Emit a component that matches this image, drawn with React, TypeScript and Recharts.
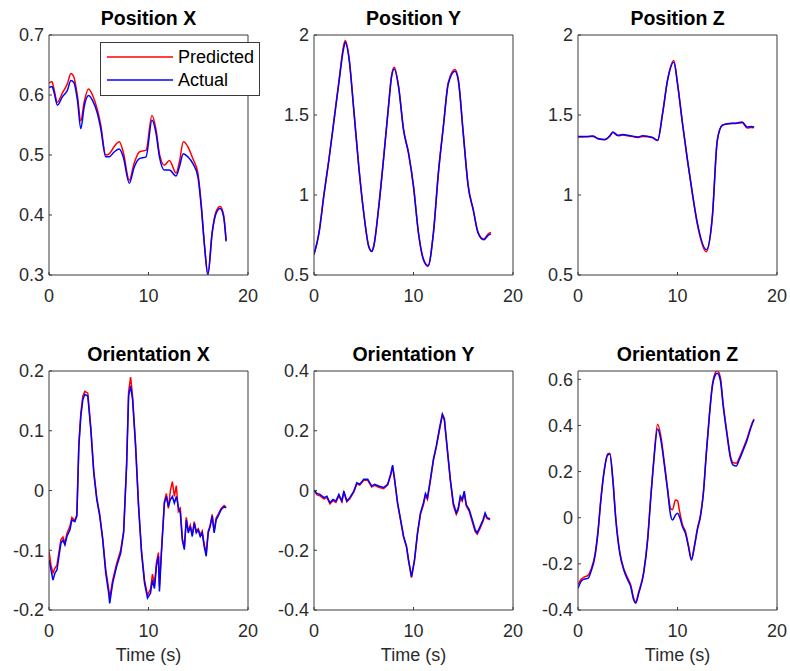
import { Legend, Line, LineChart, XAxis, YAxis } from "recharts";

const FONT = '"Liberation Sans", Arial, Helvetica, sans-serif';
const AXIS = "#3a3a3a";
const RED = "#ff0000";
const BLUE = "#0000ff";

const timeTicks = [0, 10, 20];

// Position X
const posXTime = [0, 0.3, 0.5, 0.84, 1.34, 1.85, 2.2, 2.5, 2.86, 3.2, 3.53, 3.97, 4.37, 4.87, 5.2, 5.7, 6.05, 6.55, 7.06, 7.46, 8.07, 8.57, 9.08, 9.75, 10.35, 10.76, 11.1, 11.6, 12.1, 12.77, 13.1, 13.5, 13.95, 14.45, 14.96, 15.3, 15.63, 15.97, 16.4, 16.8, 17.2, 17.55, 17.8];
const posXActual = [0.612, 0.614, 0.605, 0.583, 0.597, 0.608, 0.624, 0.621, 0.591, 0.544, 0.58, 0.599, 0.591, 0.569, 0.544, 0.497, 0.497, 0.505, 0.51, 0.497, 0.453, 0.48, 0.494, 0.497, 0.558, 0.536, 0.497, 0.475, 0.475, 0.465, 0.48, 0.502, 0.497, 0.486, 0.464, 0.414, 0.348, 0.3, 0.37, 0.403, 0.411, 0.397, 0.356];
const posXPredicted = [0.62, 0.622, 0.61, 0.588, 0.603, 0.619, 0.636, 0.63, 0.598, 0.557, 0.588, 0.61, 0.6, 0.575, 0.55, 0.5, 0.502, 0.514, 0.522, 0.505, 0.458, 0.487, 0.505, 0.508, 0.566, 0.542, 0.502, 0.483, 0.491, 0.47, 0.488, 0.522, 0.514, 0.494, 0.47, 0.418, 0.35, 0.302, 0.372, 0.406, 0.414, 0.4, 0.358];

// Position Y
const posYTime = [0, 0.5, 1, 1.5, 2, 2.5, 3, 3.15, 3.5, 4, 4.5, 5, 5.5, 5.8, 6, 6.5, 7, 7.5, 7.8, 8.07, 8.5, 9, 9.5, 10, 10.5, 11, 11.46, 12, 12.5, 13, 13.5, 14.17, 14.5, 15, 15.5, 16, 16.5, 17.05, 17.56, 17.8];
const posYActual = [0.627, 0.761, 1.0, 1.22, 1.46, 1.7, 1.923, 1.954, 1.861, 1.529, 1.176, 0.886, 0.678, 0.647, 0.678, 0.92, 1.23, 1.56, 1.74, 1.788, 1.674, 1.405, 1.26, 1.052, 0.761, 0.595, 0.554, 0.761, 1.135, 1.425, 1.695, 1.774, 1.716, 1.384, 1.052, 0.907, 0.761, 0.72, 0.751, 0.757];
const posYPredicted = [0.63, 0.765, 1.005, 1.225, 1.465, 1.71, 1.94, 1.965, 1.87, 1.535, 1.18, 0.89, 0.68, 0.65, 0.68, 0.925, 1.235, 1.565, 1.75, 1.798, 1.68, 1.41, 1.265, 1.055, 0.765, 0.6, 0.56, 0.765, 1.14, 1.43, 1.705, 1.785, 1.725, 1.39, 1.058, 0.912, 0.765, 0.725, 0.76, 0.765];

// Position Z
const posZTime = [0, 0.5, 1, 1.5, 2, 2.7, 3.2, 3.5, 4, 4.5, 5, 5.5, 6, 6.5, 7, 7.5, 8, 8.5, 9, 9.63, 10, 10.5, 11, 11.5, 12, 12.9, 13.5, 14, 14.5, 15, 16, 16.5, 17, 17.4, 17.7];
const posZActual = [1.365, 1.365, 1.366, 1.368, 1.353, 1.347, 1.37, 1.394, 1.373, 1.378, 1.373, 1.368, 1.363, 1.37, 1.367, 1.36, 1.342, 1.508, 1.716, 1.83, 1.695, 1.446, 1.218, 1.01, 0.824, 0.658, 0.865, 1.342, 1.436, 1.446, 1.45, 1.456, 1.425, 1.428, 1.425];
const posZPredicted = [1.362, 1.363, 1.364, 1.366, 1.352, 1.345, 1.368, 1.39, 1.37, 1.375, 1.37, 1.365, 1.36, 1.366, 1.364, 1.357, 1.34, 1.51, 1.72, 1.84, 1.7, 1.45, 1.22, 1.005, 0.815, 0.645, 0.86, 1.34, 1.435, 1.444, 1.448, 1.452, 1.418, 1.422, 1.42];

// Orientation X
const oriXTime = [0, 0.2, 0.4, 0.6, 0.8, 1.0, 1.2, 1.4, 1.6, 1.8, 2.1, 2.3, 2.6, 2.8, 3.0, 3.2, 3.4, 3.6, 3.9, 4.2, 4.5, 4.8, 5.1, 5.4, 5.7, 6.0, 6.1, 6.4, 6.8, 7.2, 7.5, 7.8, 8.0, 8.2, 8.4, 8.7, 9.0, 9.3, 9.6, 9.9, 10.2, 10.4, 10.6, 10.8, 11.0, 11.1, 11.3, 11.6, 11.8, 12.0, 12.2, 12.4, 12.6, 12.8, 13.0, 13.2, 13.4, 13.6, 13.8, 14.0, 14.2, 14.4, 14.6, 14.8, 15.0, 15.2, 15.4, 15.6, 15.8, 16.0, 16.2, 16.4, 16.6, 16.8, 17.0, 17.3, 17.6, 17.8];
const oriXActual = [-0.116, -0.133, -0.15, -0.138, -0.133, -0.11, -0.088, -0.083, -0.091, -0.077, -0.066, -0.049, -0.052, -0.043, 0.074, 0.124, 0.152, 0.161, 0.158, 0.102, 0.029, -0.015, -0.043, -0.083, -0.138, -0.172, -0.189, -0.155, -0.127, -0.105, -0.071, 0.041, 0.158, 0.175, 0.152, 0.074, -0.027, -0.105, -0.155, -0.18, -0.172, -0.15, -0.164, -0.127, -0.11, -0.169, -0.105, -0.021, -0.01, -0.027, -0.015, -0.01, -0.021, -0.01, -0.027, -0.038, -0.083, -0.099, -0.049, -0.071, -0.06, -0.077, -0.055, -0.071, -0.066, -0.077, -0.071, -0.094, -0.11, -0.071, -0.06, -0.043, -0.071, -0.049, -0.043, -0.032, -0.027, -0.029];
const oriXPredicted = [-0.102, -0.125, -0.138, -0.13, -0.125, -0.103, -0.082, -0.078, -0.088, -0.072, -0.06, -0.045, -0.05, -0.04, 0.078, 0.13, 0.158, 0.166, 0.163, 0.106, 0.033, -0.012, -0.04, -0.08, -0.132, -0.165, -0.18, -0.15, -0.122, -0.1, -0.068, 0.045, 0.165, 0.19, 0.158, 0.078, -0.024, -0.1, -0.15, -0.175, -0.165, -0.14, -0.158, -0.12, -0.104, -0.16, -0.1, -0.018, -0.005, -0.03, 0.0, 0.015, -0.01, 0.008, -0.035, -0.03, -0.08, -0.095, -0.045, -0.068, -0.058, -0.074, -0.052, -0.068, -0.064, -0.074, -0.068, -0.09, -0.105, -0.068, -0.058, -0.04, -0.068, -0.046, -0.04, -0.03, -0.025, -0.028];

// Orientation Y
const oriYTime = [0, 0.3, 0.6, 1.0, 1.3, 1.6, 1.9, 2.2, 2.5, 2.8, 3.0, 3.3, 3.6, 4.0, 4.3, 4.6, 5.0, 5.4, 5.8, 6.1, 6.5, 7.0, 7.4, 7.7, 7.9, 8.1, 8.4, 8.7, 9.0, 9.3, 9.5, 9.8, 10.1, 10.4, 10.7, 11.0, 11.2, 11.4, 11.7, 12.0, 12.3, 12.6, 12.9, 13.1, 13.4, 13.7, 14.0, 14.3, 14.5, 14.7, 14.9, 15.1, 15.3, 15.6, 15.9, 16.2, 16.4, 16.7, 17.0, 17.2, 17.4, 17.7];
const oriYActual = [0.002, -0.01, -0.013, -0.024, -0.019, -0.041, -0.03, -0.035, -0.013, -0.035, -0.002, -0.035, -0.024, -0.002, 0.026, 0.021, 0.038, 0.038, 0.015, 0.021, 0.015, 0.01, 0.021, 0.054, 0.085, 0.038, -0.041, -0.097, -0.153, -0.187, -0.232, -0.288, -0.232, -0.142, -0.075, -0.041, -0.01, -0.024, 0.038, 0.105, 0.15, 0.206, 0.256, 0.24, 0.139, 0.038, -0.041, -0.075, -0.058, -0.019, -0.03, -0.002, -0.047, -0.064, -0.097, -0.131, -0.142, -0.12, -0.097, -0.075, -0.091, -0.095];
const oriYPredicted = [0.0, -0.015, -0.018, -0.028, -0.024, -0.045, -0.034, -0.04, -0.018, -0.038, -0.006, -0.038, -0.028, -0.006, 0.022, 0.018, 0.034, 0.034, 0.012, 0.017, 0.011, 0.006, 0.018, 0.05, 0.08, 0.035, -0.045, -0.1, -0.156, -0.19, -0.236, -0.292, -0.236, -0.146, -0.08, -0.048, -0.016, -0.03, 0.032, 0.1, 0.146, 0.2, 0.252, 0.236, 0.135, 0.034, -0.05, -0.08, -0.065, -0.026, -0.036, -0.008, -0.052, -0.07, -0.104, -0.138, -0.146, -0.126, -0.102, -0.08, -0.094, -0.098];

// Orientation Z
const oriZTime = [0, 0.3, 0.6, 1.0, 1.3, 1.7, 2.0, 2.3, 2.6, 3.0, 3.2, 3.5, 3.8, 4.2, 4.6, 5.0, 5.3, 5.6, 5.8, 6.1, 6.6, 7.0, 7.3, 7.6, 8.0, 8.3, 8.7, 9.0, 9.3, 9.5, 9.8, 10.0, 10.2, 10.5, 10.8, 11.1, 11.4, 11.7, 12.0, 12.3, 12.6, 12.9, 13.2, 13.5, 13.8, 14.0, 14.3, 14.6, 15.0, 15.3, 15.6, 15.9, 16.2, 16.6, 17.0, 17.3, 17.6, 17.7];
const oriZActual = [-0.306, -0.277, -0.267, -0.263, -0.234, -0.169, -0.068, 0.077, 0.192, 0.272, 0.275, 0.163, -0.01, -0.155, -0.227, -0.27, -0.299, -0.357, -0.371, -0.328, -0.241, -0.097, 0.077, 0.236, 0.385, 0.344, 0.221, 0.12, 0.012, -0.01, 0.012, 0.019, 0.004, -0.039, -0.068, -0.126, -0.184, -0.126, -0.053, 0.004, 0.105, 0.279, 0.438, 0.568, 0.618, 0.626, 0.597, 0.481, 0.351, 0.264, 0.228, 0.224, 0.25, 0.293, 0.337, 0.38, 0.416, 0.423];
const oriZPredicted = [-0.29, -0.268, -0.258, -0.25, -0.225, -0.16, -0.06, 0.082, 0.196, 0.278, 0.28, 0.17, 0.0, -0.148, -0.22, -0.262, -0.292, -0.35, -0.365, -0.322, -0.235, -0.09, 0.085, 0.245, 0.405, 0.36, 0.232, 0.128, 0.04, 0.035, 0.077, 0.074, 0.03, -0.03, -0.06, -0.12, -0.178, -0.12, -0.046, 0.01, 0.11, 0.285, 0.445, 0.575, 0.628, 0.638, 0.61, 0.49, 0.36, 0.272, 0.238, 0.236, 0.258, 0.3, 0.344, 0.386, 0.42, 0.428];

const legendItems = [
  { label: "Predicted", color: RED },
  { label: "Actual", color: BLUE },
];

// plot box geometry (px on page)
const colLeft = [49, 314, 578];
const rowTop = [35, 371];
const rowHeight = [240, 239];
const PLOT_W = 199;
const Y_AXIS_W = 48;
const TOP_M = 34;
const X_AXIS_H = 30;
const BOTTOM_M = 30;

interface PanelSpec {
  title: string;
  time: number[];
  actual: number[];
  predicted: number[];
  yDomain: [number, number];
  yTicks: number[];
  col: number;
  row: number;
  curve: "monotone" | "linear";
  legend?: boolean;
}

const panels: PanelSpec[] = [
  { title: "Position X", time: posXTime, actual: posXActual, predicted: posXPredicted, yDomain: [0.3, 0.7], yTicks: [0.3, 0.4, 0.5, 0.6, 0.7], col: 0, row: 0, curve: "monotone", legend: true },
  { title: "Position Y", time: posYTime, actual: posYActual, predicted: posYPredicted, yDomain: [0.5, 2], yTicks: [0.5, 1, 1.5, 2], col: 1, row: 0, curve: "monotone" },
  { title: "Position Z", time: posZTime, actual: posZActual, predicted: posZPredicted, yDomain: [0.5, 2], yTicks: [0.5, 1, 1.5, 2], col: 2, row: 0, curve: "monotone" },
  { title: "Orientation X", time: oriXTime, actual: oriXActual, predicted: oriXPredicted, yDomain: [-0.2, 0.2], yTicks: [-0.2, -0.1, 0, 0.1, 0.2], col: 0, row: 1, curve: "linear" },
  { title: "Orientation Y", time: oriYTime, actual: oriYActual, predicted: oriYPredicted, yDomain: [-0.4, 0.4], yTicks: [-0.4, -0.2, 0, 0.2, 0.4], col: 1, row: 1, curve: "linear" },
  { title: "Orientation Z", time: oriZTime, actual: oriZActual, predicted: oriZPredicted, yDomain: [-0.4, 0.636], yTicks: [-0.4, -0.2, 0, 0.2, 0.4, 0.6], col: 2, row: 1, curve: "monotone" },
];

function LegendBox() {
  return (
    <div
      style={{
        width: 158,
        height: 52,
        border: `1px solid ${AXIS}`,
        background: "#fff",
        position: "relative",
        fontFamily: FONT,
        fontSize: 18,
        color: "#000",
      }}
    >
      {legendItems.map((item, i) => (
        <div
          key={item.label}
          style={{ position: "absolute", left: 6, top: 4 + i * 23, height: 20, display: "flex", alignItems: "center" }}
        >
          <svg width={66} height={4}>
            <line x1={0} y1={2} x2={66} y2={2} stroke={item.color} strokeWidth={1.5} />
          </svg>
          <span style={{ marginLeft: 5, lineHeight: "20px" }}>{item.label}</span>
        </div>
      ))}
    </div>
  );
}

function Panel({ spec }: { spec: PanelSpec }) {
  const rows = spec.time.map((t, i) => ({ t, actual: spec.actual[i], predicted: spec.predicted[i] }));
  const ph = rowHeight[spec.row];
  const width = Y_AXIS_W + PLOT_W + 1 + 10;
  const height = TOP_M + 1 + ph + X_AXIS_H + BOTTOM_M;
  const tickStyle = { fontSize: 18, fill: "#2b2b2b", fontFamily: FONT };

  return (
    <div style={{ position: "absolute", left: colLeft[spec.col] - Y_AXIS_W, top: rowTop[spec.row] - TOP_M - 1 }}>
      <LineChart width={width} height={height} data={rows} margin={{ top: TOP_M, right: 10, bottom: BOTTOM_M, left: 0 }}>
        <XAxis
          xAxisId="b"
          dataKey="t"
          type="number"
          domain={[0, 20]}
          ticks={timeTicks}
          allowDataOverflow
          height={X_AXIS_H}
          stroke={AXIS}
          tickSize={-3}
          tickMargin={17}
          tick={tickStyle}
          label={
            spec.row === 1
              ? { value: "Time (s)", position: "bottom", offset: 8, fontSize: 18, fill: "#2b2b2b", fontFamily: FONT }
              : undefined
          }
        />
        <XAxis
          xAxisId="t"
          orientation="top"
          type="number"
          domain={[0, 20]}
          ticks={timeTicks}
          allowDataOverflow
          height={1}
          stroke={AXIS}
          tickSize={-3}
          tick={false}
          label={{ value: spec.title, position: "top", offset: 9, fontSize: 19.5, fontWeight: "bold", fill: "#000", fontFamily: FONT }}
        />
        <YAxis
          yAxisId="l"
          type="number"
          domain={spec.yDomain}
          ticks={spec.yTicks}
          allowDataOverflow
          width={Y_AXIS_W}
          stroke={AXIS}
          tickSize={-3}
          tickMargin={8}
          tick={tickStyle}
        />
        <YAxis
          yAxisId="r"
          orientation="right"
          type="number"
          domain={spec.yDomain}
          ticks={spec.yTicks}
          allowDataOverflow
          width={1}
          stroke={AXIS}
          tickSize={-3}
          tick={false}
        />
        <Line
          xAxisId="b"
          yAxisId="l"
          dataKey="predicted"
          name="Predicted"
          type={spec.curve}
          stroke={RED}
          strokeWidth={1.5}
          dot={false}
          activeDot={false}
          isAnimationActive={false}
        />
        <Line
          xAxisId="b"
          yAxisId="l"
          dataKey="actual"
          name="Actual"
          type={spec.curve}
          stroke={BLUE}
          strokeWidth={1.5}
          dot={false}
          activeDot={false}
          isAnimationActive={false}
        />
        {spec.legend && (
          <Legend
            layout="vertical"
            align="center"
            verticalAlign="middle"
            content={() => <LegendBox />}
            wrapperStyle={{ left: 99, top: 42, width: 160, height: 54 }}
          />
        )}
      </LineChart>
    </div>
  );
}

export default function App() {
  return (
    <div style={{ position: "absolute", left: 0, top: 0, width: 790, height: 671, background: "#fff" }}>
      {panels.map((p) => (
        <Panel key={p.title} spec={p} />
      ))}
    </div>
  );
}
